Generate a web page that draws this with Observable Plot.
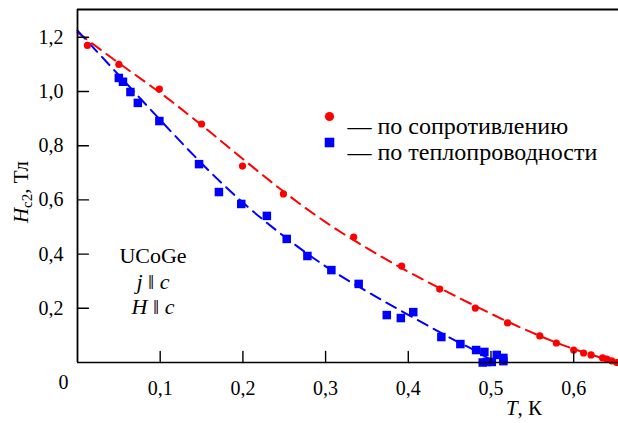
<!DOCTYPE html>
<html><head><meta charset="utf-8">
<script src="https://cdn.jsdelivr.net/npm/d3@7"></script>
<script src="https://cdn.jsdelivr.net/npm/@observablehq/plot@0.6"></script>
<style>body{margin:0;background:#fff}</style>
</head><body>
<script>
// Resistive data (red circles)
const resT = [0.012,0.050,0.099,0.150,0.1995,0.249,0.334,0.392,0.438,0.481,0.520,0.559,0.579,0.600,0.612,0.621,0.635,0.640,0.646,0.652];
const resH = [1.17,1.10,1.009,0.880,0.725,0.622,0.463,0.356,0.271,0.201,0.146,0.098,0.072,0.046,0.035,0.028,0.017,0.013,0.006,0.0];
// Thermal conductivity data (blue squares)
const thT = [0.050,0.055,0.064,0.073,0.099,0.147,0.171,0.198,0.229,0.253,0.278,0.307,0.340,0.374,0.391,0.406,0.440,0.463,0.482,0.492,0.507,0.515,0.490,0.495,0.501,0.515];
const thH = [1.050,1.036,0.998,0.958,0.891,0.732,0.629,0.585,0.541,0.456,0.393,0.341,0.290,0.175,0.164,0.186,0.094,0.068,0.046,0.039,0.028,0.017,0.0,0.002,0.002,0.005];
// Dashed guide curves
const fitResT = [0,0.05,0.1,0.15,0.2,0.25,0.3,0.35,0.4,0.45,0.5,0.55,0.6,0.652];
const fitResH = [1.218,1.105,0.995,0.876,0.751,0.629,0.518,0.422,0.335,0.256,0.180,0.110,0.050,0.0];
const fitThT = [0,0.05,0.1,0.15,0.2,0.25,0.3,0.35,0.4,0.45,0.48,0.505];
const fitThH = [1.225,1.06,0.895,0.735,0.59,0.465,0.355,0.262,0.176,0.092,0.045,0.0];
const xTicks = [0.1,0.2,0.3,0.4,0.5,0.6];
const yTicks = [0.2,0.4,0.6,0.8,1.0,1.2];
const xDomain = [0, 0.6542];
const yDomain = [0, 1.3026];
const legendLabels = ["— по сопротивлению", "— по теплопроводности"];

const FONT = "Liberation Serif";
const RED = "#ff0000", BLUE = "#0000ff";
const res = resT.map((t,i)=>({t, h: resH[i]}));
const th = thT.map((t,i)=>({t, h: thH[i]}));
const fitRes = fitResT.map((t,i)=>({t, h: fitResH[i]}));
const fitTh = fitThT.map((t,i)=>({t, h: fitThH[i]}));
const fmt = d => d3.format(".1f")(d).replace(".", ",");
const tickShape = {draw(ctx, l){ ctx.moveTo(0,0); ctx.lineTo(0,-l); }};

const plot = Plot.plot({
  width: 618, height: 423,
  marginLeft: 77, marginRight: 0, marginTop: 9, marginBottom: 61,
  x: {domain: xDomain},
  y: {domain: yDomain},
  style: {background: "#fff", color: "#000", overflow: "visible"},
  marks: [
    Plot.line(fitRes, {x: "t", y: "h", stroke: RED, strokeWidth: 2, strokeDasharray: "11,7", curve: "natural"}),
    Plot.line(fitTh, {x: "t", y: "h", stroke: BLUE, strokeWidth: 2, strokeDasharray: "11,7", curve: "natural"}),
    Plot.dot(res, {x: "t", y: "h", r: 3.6, fill: RED}),
    Plot.dot(th, {x: "t", y: "h", r: 4.8, symbol: "square", fill: BLUE}),
    Plot.ruleY([yDomain[0]], {stroke: "#000", strokeWidth: 1.6}),
    Plot.ruleY([yDomain[1]], {stroke: "#000", strokeWidth: 2}),
    Plot.ruleX([xDomain[0]], {stroke: "#000", strokeWidth: 1.8}),
    Plot.vector(yTicks, {y: d => d, frameAnchor: "left", length: 11, rotate: 90, anchor: "start", shape: tickShape, stroke: "#000", strokeWidth: 1.4}),
    Plot.vector(xTicks, {x: d => d, frameAnchor: "bottom", length: 11, rotate: 0, anchor: "start", shape: tickShape, stroke: "#000", strokeWidth: 1.4}),
    Plot.axisX({ticks: xTicks, tickSize: 0, tickPadding: 18, tickFormat: fmt, fontSize: 20, fontVariant: "normal", label: null}),
    Plot.axisY({ticks: yTicks, tickSize: 0, tickPadding: 14, tickFormat: fmt, fontSize: 20, fontVariant: "normal", label: null}),
    Plot.text(["0"], {frameAnchor: "bottom-left", dx: -19, dy: 26, text: d => d, fontSize: 20}),
    Plot.dot([legendLabels[0]], {frameAnchor: "top-left", dx: 252, dy: 107, r: 4.6, fill: RED}),
    Plot.dot([legendLabels[1]], {frameAnchor: "top-left", dx: 252, dy: 133, r: 5.4, symbol: "square", fill: BLUE}),
    Plot.text([legendLabels[0]], {frameAnchor: "top-left", dx: 270, dy: 107, text: d => d, textAnchor: "start", fontSize: 24}),
    Plot.text([legendLabels[1]], {frameAnchor: "top-left", dx: 270, dy: 133, text: d => d, textAnchor: "start", fontSize: 24})
  ]
});

const svg = d3.select(plot);
const g = svg.append("g").attr("fill", "#000");
// annotation
g.append("text").attr("x", 153).attr("y", 263).attr("text-anchor", "middle").attr("font-size", 22).text("UCoGe");
const t2 = g.append("text").attr("x", 153).attr("y", 289).attr("text-anchor", "middle").attr("font-size", 22);
t2.append("tspan").attr("font-style", "italic").text("j");
t2.append("tspan").text(" ‖ ");
t2.append("tspan").attr("font-style", "italic").text("c");
const t3 = g.append("text").attr("x", 153).attr("y", 314).attr("text-anchor", "middle").attr("font-size", 22);
t3.append("tspan").attr("font-style", "italic").text("H");
t3.append("tspan").text(" ‖ ");
t3.append("tspan").attr("font-style", "italic").text("c");
// y title
const yt = g.append("text").attr("transform", "translate(28,192) rotate(-90)").attr("text-anchor", "middle").attr("font-size", 21);
yt.append("tspan").attr("font-style", "italic").text("H");
yt.append("tspan").attr("font-size", 15).attr("dy", 4).text("c2");
yt.append("tspan").attr("dy", -4).text(", Тл");
// x title
const xt = g.append("text").attr("x", 524).attr("y", 415).attr("text-anchor", "middle").attr("font-size", 21);
xt.append("tspan").attr("font-style", "italic").text("T");
xt.append("tspan").text(", К");

// move Plot's drawing into a plain SVG placed directly in the body, with a serif family
svg.selectAll("style").remove();
svg.selectAll("g").attr("font-family", null);
svg.selectAll("text").attr("font-family", FONT);
const out = document.createElementNS("http://www.w3.org/2000/svg", "svg");
out.setAttribute("width", 618);
out.setAttribute("height", 423);
out.setAttribute("font-family", FONT);
out.setAttribute("fill", "#000");
out.setAttribute("text-anchor", "middle");
out.setAttribute("font-size", 10);
while (plot.firstChild) out.appendChild(plot.firstChild);
document.body.appendChild(out);
</script></body></html>
